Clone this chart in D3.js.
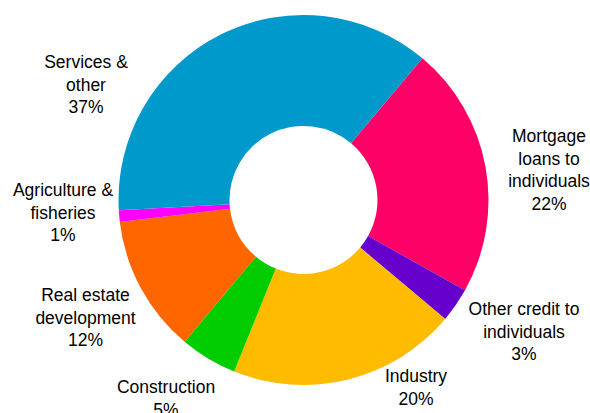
<!DOCTYPE html>
<html>
<head>
<meta charset="utf-8">
<script src="https://cdn.jsdelivr.net/npm/d3@7/dist/d3.min.js"></script>
<style>
  html, body { margin: 0; padding: 0; background: #fff; }
  svg { display: block; }
  text { font-family: "Liberation Sans", Arial, sans-serif; font-size: 17.5px; fill: #000; }
</style>
</head>
<body>
<svg id="chart" width="590" height="413"></svg>
<script>
// Loan book by sector, share of total (%), listed clockwise
const categories = [
  "Mortgage loans to individuals",
  "Other credit to individuals",
  "Industry",
  "Construction",
  "Real estate development",
  "Agriculture & fisheries",
  "Services & other"
];
const shares = [22, 3, 20, 5, 12, 1, 37];
const colors = ["#FF0066", "#6600CC", "#FFBB00", "#00CC00", "#FF6600", "#FF00FF", "#0099CC"];
// Label text broken into lines
const labelLines = [
  ["Mortgage", "loans to", "individuals"],
  ["Other credit to", "individuals"],
  ["Industry"],
  ["Construction"],
  ["Real estate", "development"],
  ["Agriculture &", "fisheries"],
  ["Services &", "other"]
];

const width = 590, height = 413;
const cx = 303.5, cy = 200;
const outerR = 185, innerR = 74;
const startDeg = 40;
const lineH = 22.5;

// Label anchors (centre of first baseline), relative to the chart centre
const labelOffsets = [
  [245.5, -58],
  [220.5, 115],
  [112.5, 182],
  [-137.5, 193],
  [-218, 101],
  [-240.5, -4],
  [-217.5, -132]
];

const svg = d3.select("#chart");
const g = svg.append("g").attr("transform", `translate(${cx},${cy})`);

const pie = d3.pie()
  .sort(null)
  .value(d => d)
  .startAngle(startDeg * Math.PI / 180)
  .endAngle((startDeg + 360) * Math.PI / 180);

const arc = d3.arc().innerRadius(innerR).outerRadius(outerR);

const arcs = pie(shares);

g.selectAll("path.slice")
  .data(arcs)
  .join("path")
  .attr("class", "slice")
  .attr("d", arc)
  .attr("fill", (d, i) => colors[i]);

const labels = g.selectAll("text.label")
  .data(arcs)
  .join("text")
  .attr("class", "label")
  .attr("text-anchor", "middle")
  .attr("x", (d, i) => labelOffsets[i][0])
  .attr("y", (d, i) => labelOffsets[i][1]);

labels.each(function(d, i) {
  const t = d3.select(this);
  const lines = labelLines[i].concat([d3.format(".0f")(shares[i]) + "%"]);
  lines.forEach((ln, k) => {
    t.append("tspan")
      .attr("x", labelOffsets[i][0])
      .attr("dy", k === 0 ? 0 : lineH)
      .text(ln);
  });
});
</script>
</body>
</html>
